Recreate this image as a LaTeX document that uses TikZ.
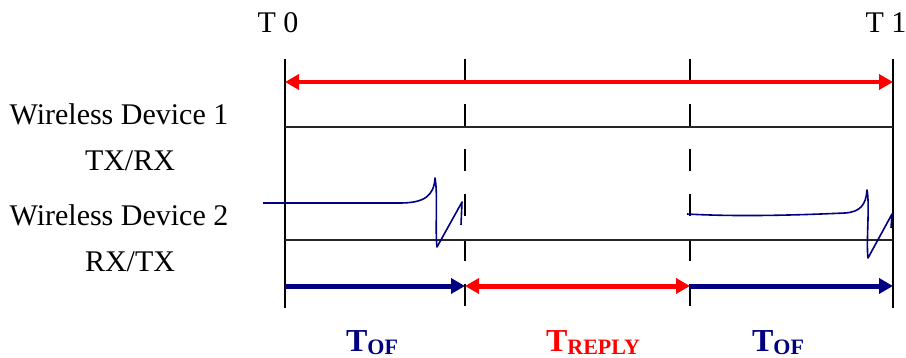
\documentclass[tikz,border=0pt]{standalone}
\usepackage{fontspec}
\setmainfont{Liberation Serif}
\usepackage{xcolor}
\usepackage{tikz}
\usetikzlibrary{arrows.meta}
\colorlet{twrnavy}{blue!50!black}
\colorlet{twrred}{red}
\newcommand{\twrlab}[2]{\textbf{#1}\raisebox{-1.5pt}{\fontsize{11}{13}\selectfont\textbf{#2}}}
\tikzset{
  twrtext/.style={anchor=base,inner sep=0pt,font=\fontsize{15}{18}\selectfont},
  twrtime/.style={anchor=base,inner sep=0pt,font=\fontsize{16}{19}\selectfont},
  twrtick/.style={line width=0.8pt,black},
  twrgap/.style={twrtick,dash pattern=on 11pt off 11.5pt},
  twrline/.style={line width=0.7pt,black!85},
  twrspan/.style={{Triangle[length=7pt,width=7.5pt]}-{Triangle[length=7pt,width=7.5pt]},
                  line width=2pt,twrred},
  twrflight/.style={-{Triangle[length=7pt,width=7.5pt]},line width=2.5pt,twrnavy},
  twrreply/.style={{Triangle[length=7pt,width=7.5pt]}-{Triangle[length=7pt,width=7.5pt]},
                   line width=2.5pt,twrred},
  twrwave/.style={line width=0.8pt,twrnavy,line join=round}
}
\begin{document}
\begin{tikzpicture}[x=0.5pt,y=-0.5pt]
  \useasboundingbox (0,0) rectangle (906,358);

  % time instants and levels
  \foreach \name/\x in {a/285,b/465,c/690,d/893}{
    \coordinate (\name-top) at (\x,59);
    \coordinate (\name-bot) at (\x,308);
    \coordinate (\name-span) at (\x,82);
    \coordinate (\name-one) at (\x,127);
    \coordinate (\name-two) at (\x,240);
    \coordinate (\name-flow) at (\x,286);
  }

  \node[twrtext] (tzero) at (278,33) {T 0};
  \node[twrtext] (tone) at (886,33) {T 1};

  \node[twrtext] (devone) at (119,125) {Wireless Device 1};
  \node[twrtext] (roleone) at (130,170) {TX/RX};
  \node[twrtext] (devtwo) at (119,226) {Wireless Device 2};
  \node[twrtext] (roletwo) at (130,271) {RX/TX};

  \draw[twrtick] (a-top) -- (a-bot);
  \draw[twrtick] (d-top) -- (d-bot);
  \draw[twrgap] (b-top) -- (b-bot);
  \draw[twrgap] (c-top) -- (c-bot);

  \draw[twrspan] (a-span) -- (d-span);
  \draw[twrline] (a-one) -- (d-one);
  \draw[twrline] (a-two) -- (d-two);

  \draw[twrflight] (a-flow) -- (b-flow);
  \draw[twrreply] (b-flow) -- (c-flow);
  \draw[twrflight] (c-flow) -- (d-flow);

  % received pulses
  \draw[twrwave] (263,203) -- (400,203) .. controls (424,203) and (434,196) .. (435,178)
    .. controls (438,192) and (435,232) .. (437,247) -- (462,202) -- (461,225);
  \draw[twrwave] (687,214) .. controls (740,217) and (800,215) .. (845,213)
    .. controls (860,212) and (866,205) .. (867,190)
    .. controls (870,205) and (866,242) .. (868,258) -- (892,214) -- (891,228);

  \node[twrtime,text=twrnavy] (tofa) at (372,351) {\twrlab{T}{OF}};
  \node[twrtime,text=twrred] (treply) at (593,351) {\twrlab{T}{REPLY}};
  \node[twrtime,text=twrnavy] (tofb) at (778,351) {\twrlab{T}{OF}};
\end{tikzpicture}
\end{document}
